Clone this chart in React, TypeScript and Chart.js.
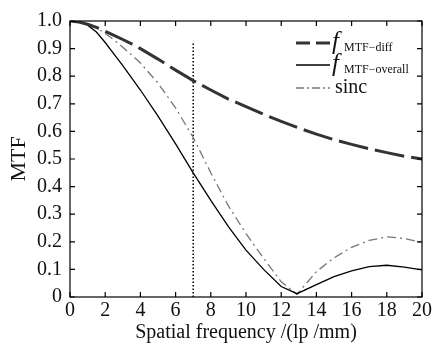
import React, { useEffect, useRef } from 'react';
import { Chart, registerables } from 'chart.js';

Chart.register(...registerables);

// ---- data ----
const diffFreq = [0, 0.5, 1, 1.5, 2, 2.5, 3, 3.5, 4, 5, 6, 7, 8, 9, 10, 11, 12, 13, 14, 15, 16, 17, 18, 19, 20];
const diffMTF = [1.0, 0.996, 0.988, 0.977, 0.963, 0.948, 0.933, 0.917, 0.9, 0.862, 0.822, 0.784, 0.75, 0.717, 0.69, 0.662, 0.636, 0.612, 0.59, 0.57, 0.553, 0.537, 0.523, 0.51, 0.5];

const overallFreq = [0, 0.5, 1, 1.5, 2, 2.5, 3, 3.5, 4, 5, 6, 7, 8, 9, 10, 11, 12, 12.9, 14, 15, 16, 17, 18, 19, 20];
const overallMTF = [1.0, 0.997, 0.985, 0.96, 0.922, 0.88, 0.838, 0.794, 0.75, 0.655, 0.555, 0.45, 0.35, 0.255, 0.17, 0.1, 0.038, 0.012, 0.045, 0.074, 0.095, 0.11, 0.115, 0.108, 0.098];

const sincFreq = [0, 0.5, 1, 1.5, 2, 2.5, 3, 3.5, 4, 5, 6, 7, 8, 9, 10, 11, 12, 12.9, 14, 15, 16, 17, 18, 19, 20];
const sincMTF = [1.0, 0.998, 0.99, 0.975, 0.955, 0.932, 0.905, 0.877, 0.848, 0.775, 0.685, 0.578, 0.45, 0.33, 0.23, 0.14, 0.055, 0.01, 0.092, 0.142, 0.18, 0.205, 0.218, 0.212, 0.197];

const markerFreq = [7, 7];
const markerMTF = [0, 0.925];

const xTicks = [0, 2, 4, 6, 8, 10, 12, 14, 16, 18, 20];
const xTickLabels = ['0', '2', '4', '6', '8', '10', '12', '14', '16', '18', '20'];
const yTicks = [0, 0.1, 0.2, 0.3, 0.4, 0.5, 0.6, 0.7, 0.8, 0.9, 1.0];
const yTickLabels = ['0', '0.1', '0.2', '0.3', '0.4', '0.5', '0.6', '0.7', '0.8', '0.9', '1.0'];

const xTitle = 'Spatial frequency /(lp /mm)';
const yTitle = 'MTF';
const legendMain = ['f', 'f', 'sinc'];
const legendSub = ['MTF\u2212diff', 'MTF\u2212overall', ''];

const SERIF = '"Liberation Serif", "Times New Roman", serif';

const toPts = (xs: number[], ys: number[]) => xs.map((x, i) => ({ x, y: ys[i] }));

const frameTicksPlugin = {
  id: 'frameTicks',
  afterDatasetsDraw(chart: any) {
    const { ctx, chartArea, scales } = chart;
    const { left, right, top, bottom } = chartArea;
    ctx.save();
    ctx.strokeStyle = '#000';
    ctx.lineWidth = 1.2;
    ctx.setLineDash([]);
    ctx.strokeRect(left, top, right - left, bottom - top);
    const tl = 5;
    ctx.beginPath();
    xTicks.forEach((v) => {
      const px = scales.x.getPixelForValue(v);
      ctx.moveTo(px, bottom);
      ctx.lineTo(px, bottom - tl);
      ctx.moveTo(px, top);
      ctx.lineTo(px, top + tl);
    });
    yTicks.forEach((v) => {
      const py = scales.y.getPixelForValue(v);
      ctx.moveTo(left, py);
      ctx.lineTo(left + tl, py);
      ctx.moveTo(right, py);
      ctx.lineTo(right - tl, py);
    });
    ctx.stroke();
    ctx.restore();
  },
};

const legendPlugin = {
  id: 'mtfLegend',
  afterDraw(chart: any) {
    const { ctx } = chart;
    const styles = [
      { color: '#333', width: 3, dash: [14, 6] },
      { color: '#000', width: 1.3, dash: [] as number[] },
      { color: '#777', width: 1.3, dash: [8, 3, 2, 3] },
    ];
    const rows = [43, 65, 88];
    ctx.save();
    rows.forEach((ry, i) => {
      const s = styles[i];
      ctx.beginPath();
      ctx.strokeStyle = s.color;
      ctx.lineWidth = s.width;
      ctx.setLineDash(s.dash);
      ctx.moveTo(296, ry);
      ctx.lineTo(330, ry);
      ctx.stroke();
      ctx.setLineDash([]);
      ctx.fillStyle = '#111';
      ctx.textBaseline = 'alphabetic';
      ctx.textAlign = 'left';
      if (legendSub[i]) {
        ctx.font = `italic 25px ${SERIF}`;
        ctx.fillText(legendMain[i], 332, ry + 6);
        ctx.font = `12px ${SERIF}`;
        ctx.fillText(legendSub[i], 344, ry + 8);
      } else {
        ctx.font = `20px ${SERIF}`;
        ctx.fillText(legendMain[i], 335, ry + 5);
      }
    });
    ctx.restore();
  },
};

export default function App() {
  const ref = useRef<HTMLCanvasElement | null>(null);
  useEffect(() => {
    if (!ref.current) return;
    const chart = new Chart(ref.current, {
      type: 'line',
      data: {
        datasets: [
          {
            label: 'diff',
            data: toPts(diffFreq, diffMTF),
            borderColor: '#333',
            borderWidth: 3,
            borderDash: [30, 7],
            pointRadius: 0,
            tension: 0,
          },
          {
            label: 'overall',
            data: toPts(overallFreq, overallMTF),
            borderColor: '#000',
            borderWidth: 1.3,
            pointRadius: 0,
            tension: 0,
          },
          {
            label: 'sinc',
            data: toPts(sincFreq, sincMTF),
            borderColor: '#777',
            borderWidth: 1.3,
            borderDash: [9, 4, 2, 4],
            pointRadius: 0,
            tension: 0,
          },
          {
            label: 'marker',
            data: toPts(markerFreq, markerMTF),
            borderColor: '#000',
            borderWidth: 1.5,
            borderDash: [1.5, 2],
            pointRadius: 0,
          },
        ],
      },
      options: {
        animation: false,
        responsive: false,
        maintainAspectRatio: false,
        layout: { padding: { top: 21, right: 13, left: 0, bottom: 0 } },
        plugins: { legend: { display: false }, tooltip: { enabled: false } },
        scales: {
          x: {
            type: 'linear',
            min: 0,
            max: 20,
            afterBuildTicks: (s: any) => {
              s.ticks = xTicks.map((v) => ({ value: v }));
            },
            afterFit: (s: any) => {
              s.height = 48;
            },
            grid: { display: false, drawTicks: false },
            border: { display: false },
            ticks: {
              color: '#111',
              padding: 2,
              maxRotation: 0,
              autoSkip: false,
              font: { family: SERIF, size: 20 },
              callback: (_v: any, i: number) => xTickLabels[i],
            },
            title: {
              display: true,
              text: xTitle,
              color: '#111',
              font: { family: SERIF, size: 20 },
              padding: { top: 0, bottom: 0 },
            },
          },
          y: {
            type: 'linear',
            min: 0,
            max: 1,
            afterBuildTicks: (s: any) => {
              s.ticks = yTicks.map((v) => ({ value: v }));
            },
            afterFit: (s: any) => {
              s.width = 70;
            },
            grid: { display: false, drawTicks: false },
            border: { display: false },
            ticks: {
              color: '#111',
              padding: 8,
              autoSkip: false,
              font: { family: SERIF, size: 20 },
              callback: (_v: any, i: number) => yTickLabels[i],
            },
            title: {
              display: true,
              text: yTitle,
              color: '#111',
              font: { family: SERIF, size: 22 },
              padding: { top: 6, bottom: 0 },
            },
          },
        },
      },
      plugins: [frameTicksPlugin, legendPlugin],
    });
    return () => chart.destroy();
  }, []);
  return (
    <div style={{ position: 'fixed', left: 0, top: 0, width: 435, height: 345, background: '#fff' }}>
      <canvas ref={ref} width={435} height={345} style={{ width: 435, height: 345 }} />
    </div>
  );
}
